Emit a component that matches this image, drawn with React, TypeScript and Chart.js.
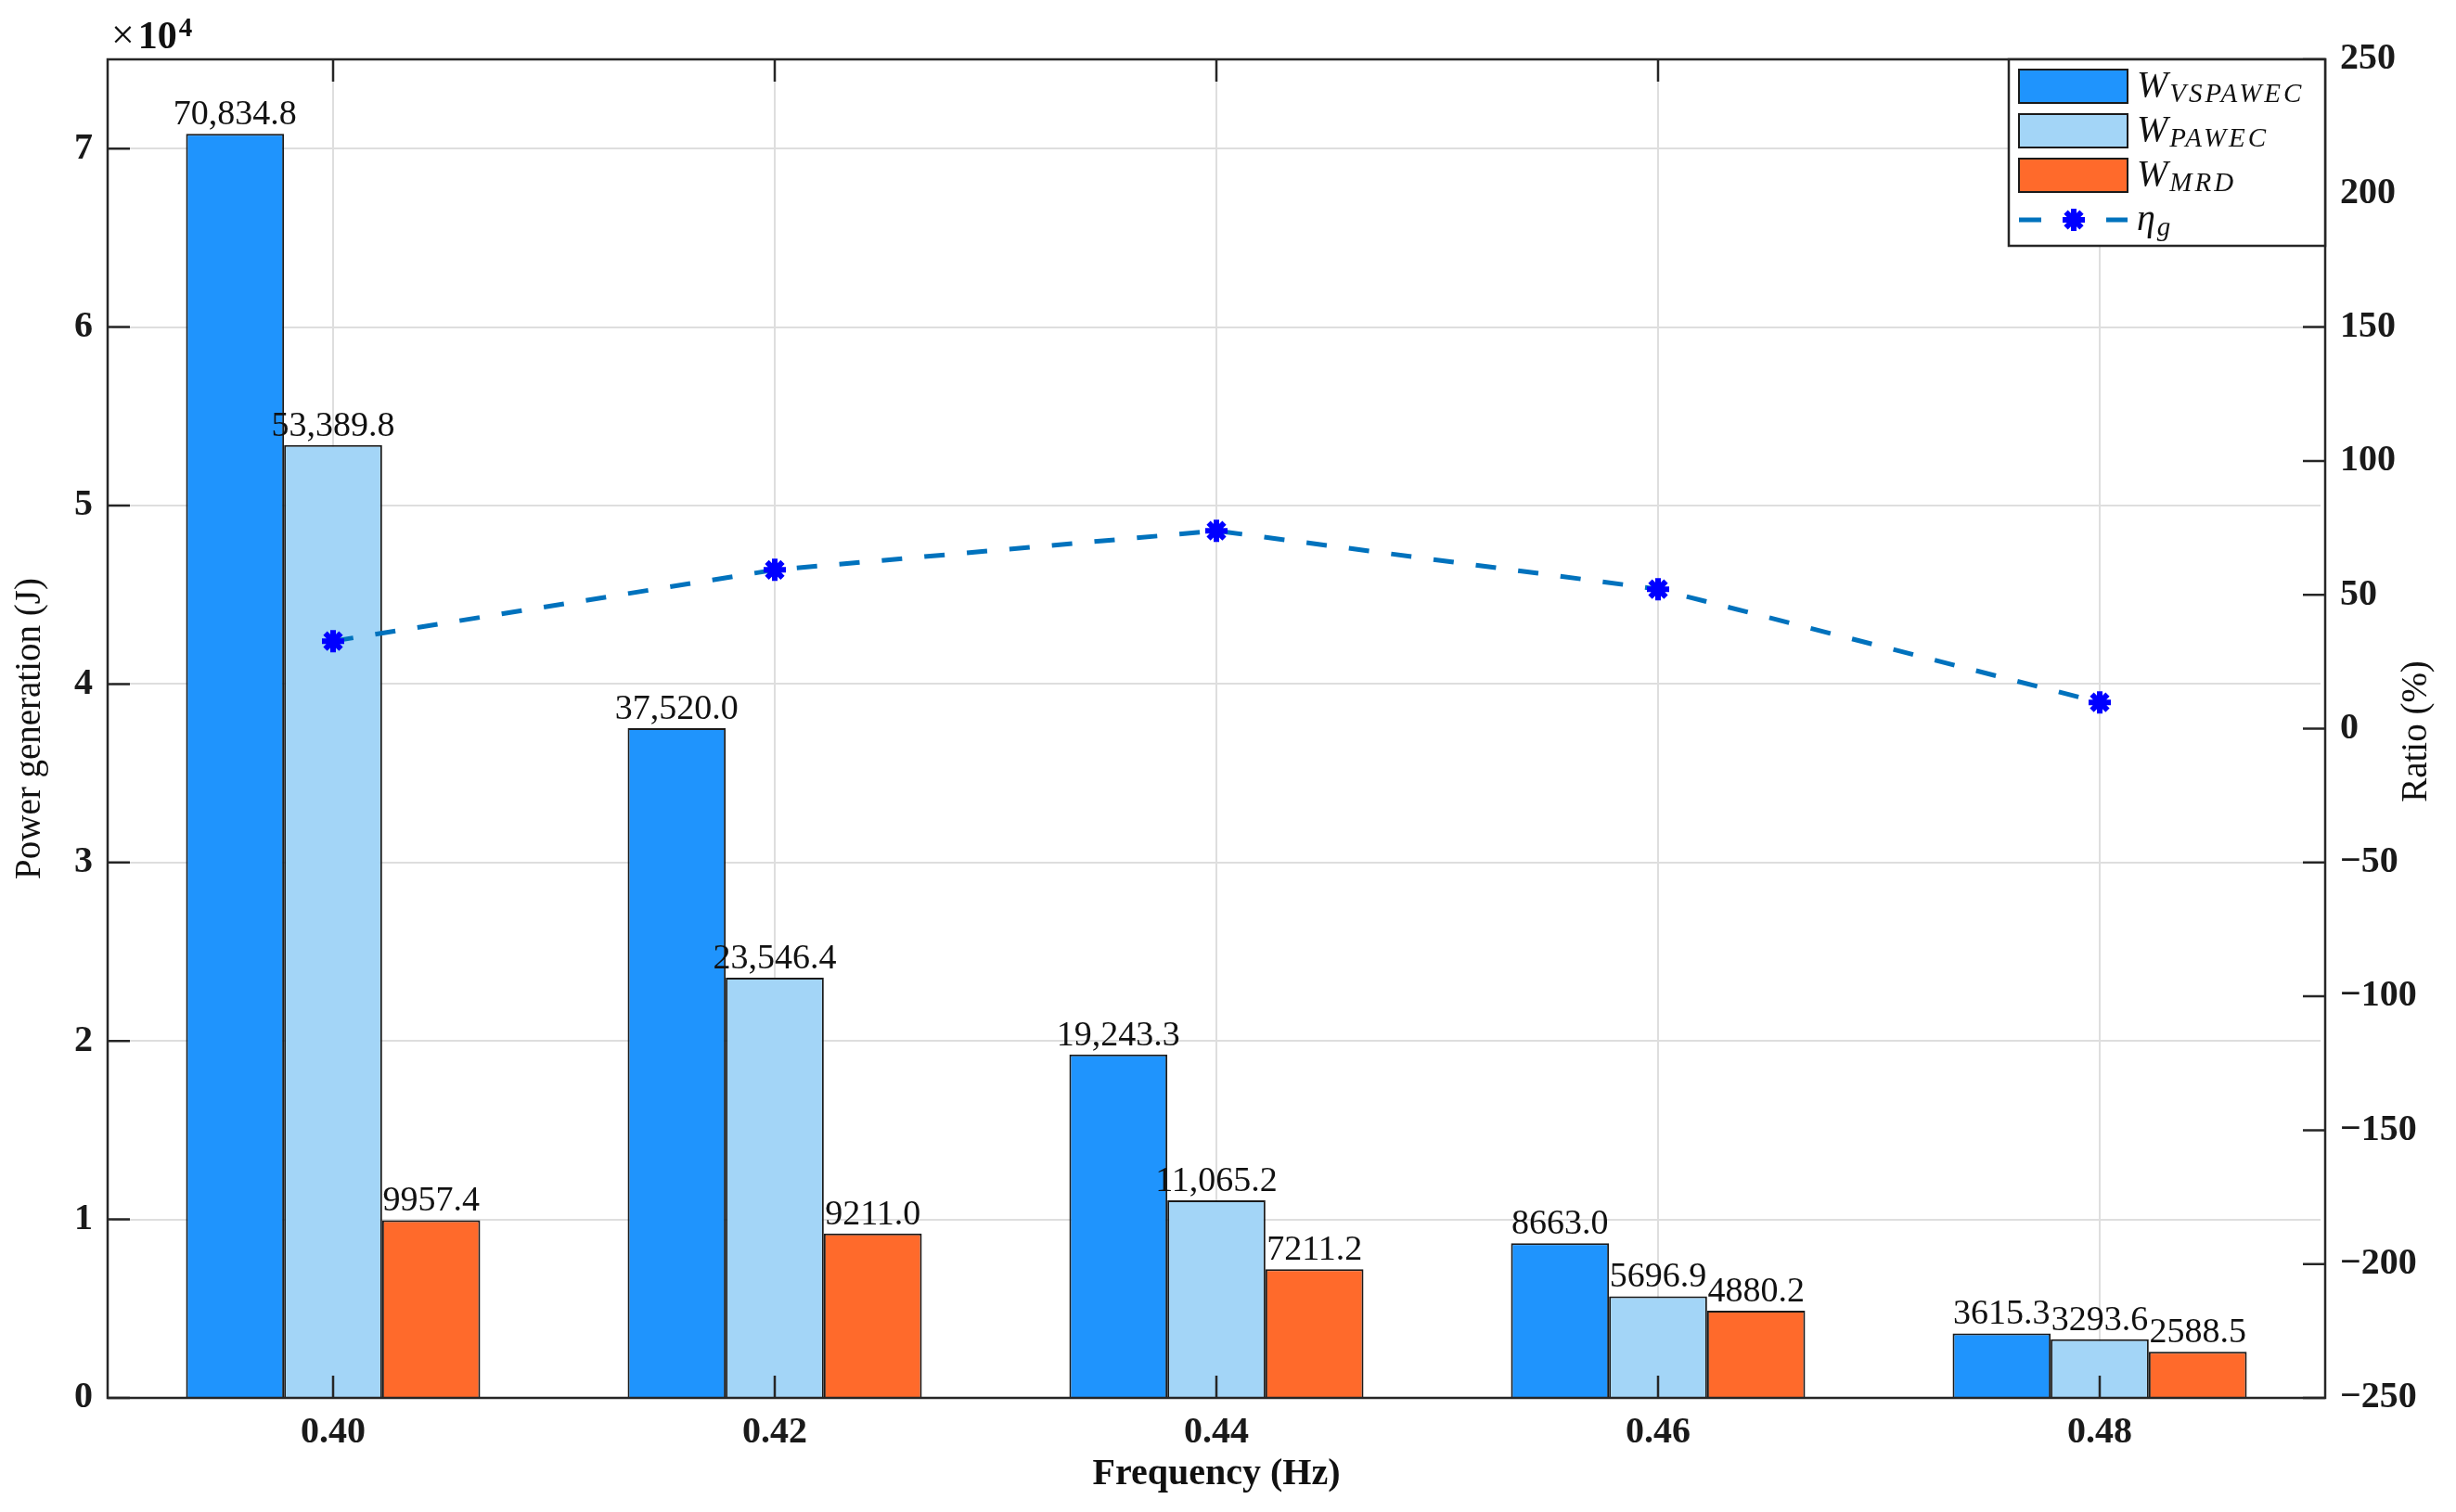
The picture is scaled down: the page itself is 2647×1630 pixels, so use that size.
import React, { useEffect, useRef } from 'react';
import { Chart, registerables } from 'chart.js';

Chart.register(...registerables);

// values
const frequencies = ['0.40', '0.42', '0.44', '0.46', '0.48'];
const wVspawec = [70834.8, 37520.0, 19243.3, 8663.0, 3615.3];
const wPawec = [53389.8, 23546.4, 11065.2, 5696.9, 3293.6];
const wMrd = [9957.4, 9211.0, 7211.2, 4880.2, 2588.5];
const etaG = [32.7, 59.3, 73.9, 52.1, 9.8];
const leftTicks = [0, 10000, 20000, 30000, 40000, 50000, 60000, 70000];

const SERIF = '"Liberation Serif", "Times New Roman", serif';
const AXIS = '#262626';
const LINE_BLUE = '#0072BD';
const MARK_BLUE = '#0000FF';
const barColors = ['#1F94FD', '#A3D5F7', '#FF6A2B'];
const BOX_PAD = 5; // MATLAB xlim leaves a small gap beyond the outer categories

const fmt = (v: number) =>
  v >= 10000
    ? v.toLocaleString('en-US', { minimumFractionDigits: 1, maximumFractionDigits: 1 })
    : v.toFixed(1);

function drawStar(ctx: CanvasRenderingContext2D, x: number, y: number, r: number) {
  ctx.save();
  ctx.strokeStyle = MARK_BLUE;
  ctx.lineWidth = 6;
  ctx.lineCap = 'butt';
  ctx.beginPath();
  for (let k = 0; k < 4; k++) {
    const ang = (k * Math.PI) / 4;
    ctx.moveTo(x - r * Math.cos(ang), y - r * Math.sin(ang));
    ctx.lineTo(x + r * Math.cos(ang), y + r * Math.sin(ang));
  }
  ctx.stroke();
  ctx.restore();
}

const overlayPlugin = {
  id: 'overlay',
  afterDatasetsDraw(chart: any) {
    const { ctx, chartArea: a, scales } = chart;
    const left = a.left - BOX_PAD;
    const right = a.right + BOX_PAD;
    ctx.save();

    // bar value labels
    ctx.fillStyle = '#111';
    ctx.font = `38px ${SERIF}`;
    ctx.textAlign = 'center';
    ctx.textBaseline = 'alphabetic';
    [0, 1, 2].forEach((di) => {
      const meta = chart.getDatasetMeta(di);
      const vals = chart.data.datasets[di].data as number[];
      meta.data.forEach((el: any, j: number) => {
        ctx.fillText(fmt(vals[j]), el.x, el.y - 10);
      });
    });

    // box
    ctx.strokeStyle = AXIS;
    ctx.lineWidth = 2.5;
    ctx.strokeRect(left, a.top, right - left, a.bottom - a.top);

    // inward ticks
    ctx.beginPath();
    const tl = 24;
    scales.x.ticks.forEach((_t: any, i: number) => {
      const x = scales.x.getPixelForTick(i);
      ctx.moveTo(x, a.bottom);
      ctx.lineTo(x, a.bottom - tl);
      ctx.moveTo(x, a.top);
      ctx.lineTo(x, a.top + tl);
    });
    scales.y.ticks.forEach((t: any) => {
      const y = scales.y.getPixelForValue(t.value);
      ctx.moveTo(left, y);
      ctx.lineTo(left + tl, y);
    });
    scales.y2.ticks.forEach((t: any) => {
      const y = scales.y2.getPixelForValue(t.value);
      ctx.moveTo(right, y);
      ctx.lineTo(right - tl, y);
    });
    ctx.stroke();

    // legend
    const lw = 341;
    const lh = 201;
    const lx = right - lw;
    const ly = a.top;
    ctx.fillStyle = '#fff';
    ctx.fillRect(lx, ly, lw, lh);
    ctx.strokeStyle = AXIS;
    ctx.lineWidth = 2.5;
    ctx.strokeRect(lx, ly, lw, lh);

    const subs = ['VSPAWEC', 'PAWEC', 'MRD'];
    ctx.textAlign = 'left';
    for (let i = 0; i < 4; i++) {
      const cy = ly + 29 + i * 48;
      if (i < 3) {
        ctx.fillStyle = barColors[i];
        ctx.fillRect(lx + 11, cy - 18, 117, 36);
        ctx.strokeStyle = '#1a1a1a';
        ctx.lineWidth = 2;
        ctx.strokeRect(lx + 11, cy - 18, 117, 36);
      } else {
        ctx.strokeStyle = LINE_BLUE;
        ctx.lineWidth = 5;
        ctx.beginPath();
        ctx.moveTo(lx + 11, cy);
        ctx.lineTo(lx + 35, cy);
        ctx.moveTo(lx + 105, cy);
        ctx.lineTo(lx + 128, cy);
        ctx.stroke();
        drawStar(ctx, lx + 70, cy, 12);
      }
      const tx = lx + 138;
      const base = cy + 11;
      const main = i < 3 ? 'W' : 'η';
      const sub = i < 3 ? subs[i] : 'g';
      ctx.fillStyle = '#111';
      ctx.font = `italic 40px ${SERIF}`;
      (ctx as any).letterSpacing = '0px';
      ctx.fillText(main, tx, base);
      const mw = ctx.measureText(main).width;
      ctx.font = `italic 29px ${SERIF}`;
      (ctx as any).letterSpacing = '3px';
      ctx.fillText(sub, tx + mw + 2, base + 6);
      (ctx as any).letterSpacing = '0px';
    }

    // axis titles
    ctx.fillStyle = '#111';
    ctx.textAlign = 'center';
    ctx.textBaseline = 'middle';
    const midY = (a.top + a.bottom) / 2;
    ctx.font = `39px ${SERIF}`;
    ctx.save();
    ctx.translate(33, midY);
    ctx.rotate(-Math.PI / 2);
    ctx.fillText('Power generation (J)', 0, 0);
    ctx.restore();

    ctx.save();
    ctx.translate(2605, midY + 3);
    ctx.rotate(-Math.PI / 2);
    ctx.fillText('Ratio (%)', 0, 0);
    ctx.restore();

    ctx.textBaseline = 'alphabetic';
    ctx.font = `bold 40px ${SERIF}`;
    ctx.fillText('Frequency (Hz)', (left + right) / 2, 1600);

    // exponent label
    ctx.textAlign = 'left';
    ctx.font = `44px ${SERIF}`;
    ctx.fillText('×', left + 4, a.top - 12);
    const xw = ctx.measureText('×').width;
    ctx.font = `bold 42px ${SERIF}`;
    ctx.fillText('10', left + 8 + xw, a.top - 12);
    const tw = ctx.measureText('10').width;
    ctx.font = `bold 29px ${SERIF}`;
    ctx.fillText('4', left + 10 + xw + tw, a.top - 25);

    ctx.restore();
  },
};

const App: React.FC = () => {
  const canvasRef = useRef<HTMLCanvasElement>(null);
  const chartRef = useRef<Chart | null>(null);

  useEffect(() => {
    if (!canvasRef.current) return;
    if (chartRef.current) chartRef.current.destroy();

    const tickFont = { family: SERIF, size: 40, weight: 'bold' as const };

    chartRef.current = new Chart(canvasRef.current, {
      type: 'bar',
      data: {
        labels: frequencies,
        datasets: [
          {
            label: 'W_VSPAWEC',
            data: wVspawec,
            backgroundColor: barColors[0],
            borderColor: '#1a1a1a',
            borderWidth: 2,
            yAxisID: 'y',
            order: 2,
          },
          {
            label: 'W_PAWEC',
            data: wPawec,
            backgroundColor: barColors[1],
            borderColor: '#1a1a1a',
            borderWidth: 2,
            yAxisID: 'y',
            order: 2,
          },
          {
            label: 'W_MRD',
            data: wMrd,
            backgroundColor: barColors[2],
            borderColor: '#1a1a1a',
            borderWidth: 2,
            yAxisID: 'y',
            order: 2,
          },
          {
            type: 'line',
            label: 'eta_g',
            data: etaG,
            yAxisID: 'y2',
            borderColor: LINE_BLUE,
            borderWidth: 5,
            borderDash: [22, 24],
            pointStyle: 'star',
            pointRadius: 12,
            pointBorderColor: MARK_BLUE,
            pointBackgroundColor: MARK_BLUE,
            pointBorderWidth: 6,
            tension: 0,
            order: 0,
          } as any,
        ],
      },
      options: {
        animation: false,
        responsive: true,
        maintainAspectRatio: false,
        devicePixelRatio: 1,
        layout: { padding: { top: 64, left: 0, right: 0, bottom: 0 } },
        datasets: {
          bar: { categoryPercentage: 0.666, barPercentage: 1.0 },
        },
        plugins: {
          legend: { display: false },
          tooltip: { enabled: false },
        },
        scales: {
          x: {
            grid: { color: '#dedede', lineWidth: 2, offset: false, drawTicks: false },
            border: { display: false },
            ticks: { font: tickFont, color: '#1a1a1a', padding: 14 },
            afterFit: (s: any) => {
              s.height = 123;
            },
          },
          y: {
            position: 'left',
            min: 0,
            max: 75000,
            grid: { color: '#dedede', lineWidth: 2, drawTicks: false },
            border: { display: false },
            ticks: {
              font: tickFont,
              color: '#1a1a1a',
              padding: 21,
              callback: (v: any) => String(Number(v) / 10000),
            },
            afterBuildTicks: (s: any) => {
              s.ticks = leftTicks.map((v) => ({ value: v }));
            },
            afterFit: (s: any) => {
              s.width = 116 + BOX_PAD;
            },
          },
          y2: {
            position: 'right',
            min: -250,
            max: 250,
            grid: { display: false, drawTicks: false },
            border: { display: false },
            ticks: {
              stepSize: 50,
              font: tickFont,
              color: '#1a1a1a',
              padding: 21,
              callback: (v: any) => String(v).replace('-', '\u2212'),
            },
            afterFit: (s: any) => {
              s.width = 2647 - 2506 + BOX_PAD;
            },
          },
        },
      },
      plugins: [overlayPlugin],
    });

    return () => {
      if (chartRef.current) {
        chartRef.current.destroy();
        chartRef.current = null;
      }
    };
  }, []);

  return (
    <div style={{ position: 'absolute', left: 0, top: 0, width: 2647, height: 1630, background: '#fff' }}>
      <canvas ref={canvasRef}></canvas>
    </div>
  );
};

export default App;
